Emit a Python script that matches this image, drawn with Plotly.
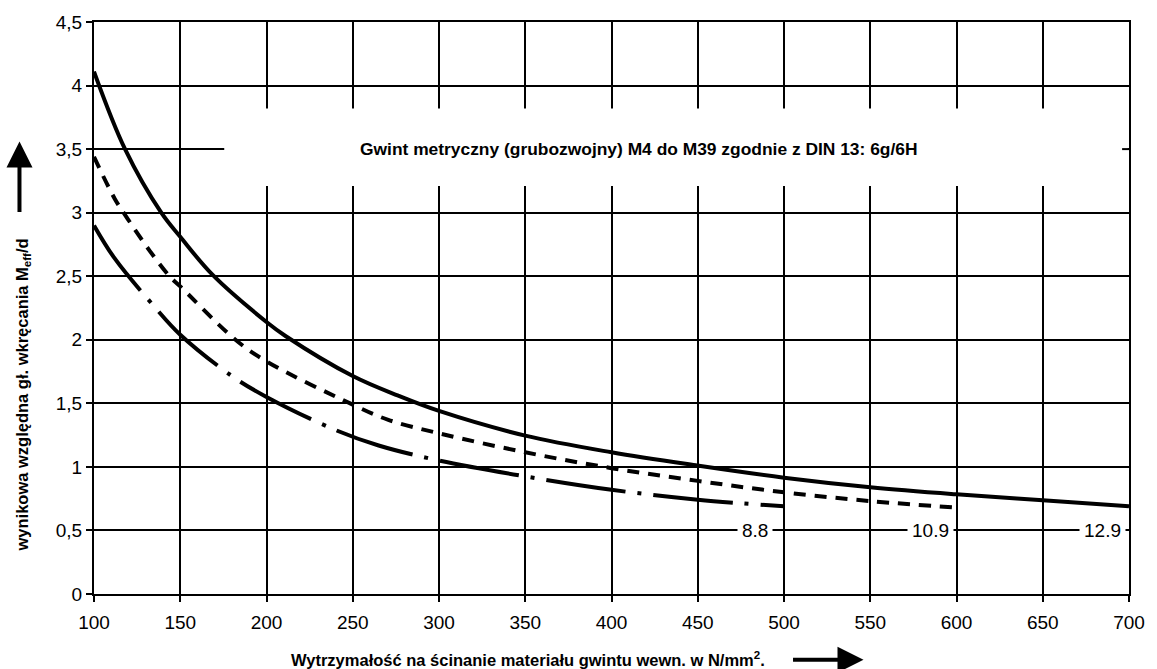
"""
Relative thread engagement depth vs. shear strength of internal thread material
"""

import plotly.graph_objects as go

# grade 12.9 (solid)
x_129 = [100, 118, 139, 150, 168.8, 200, 211, 250, 276.4,
         300, 350, 400, 450, 500, 550, 600, 650, 700]
y_129 = [4.11, 3.5, 3.0, 2.81, 2.51, 2.14, 2.03, 1.715, 1.56,
         1.44, 1.246, 1.115, 1.01, 0.915, 0.84, 0.784, 0.737, 0.69]

# grade 10.9 (dashed)
x_109 = [100, 112, 119.6, 132.3, 143.8, 150, 182, 200, 250, 270.6,
         300, 350, 400, 450, 500, 550, 600]
y_109 = [3.44, 3.11, 2.95, 2.70, 2.5, 2.42, 2.0, 1.83, 1.49, 1.37,
         1.264, 1.115, 0.99, 0.89, 0.80, 0.731, 0.68]

# grade 8.8 (dash-dot)
x_88 = [100, 112, 135.7, 150, 179.4, 200, 240, 265, 300, 350, 400, 450, 500]
y_88 = [2.9, 2.64, 2.25, 2.04, 1.72, 1.55, 1.29, 1.168, 1.05, 0.925, 0.82,
        0.742, 0.69]

x_ticks = [100, 150, 200, 250, 300, 350, 400, 450, 500, 550, 600, 650, 700]
y_ticks = [0, 0.5, 1, 1.5, 2, 2.5, 3, 3.5, 4, 4.5]
y_ticktext = ["0", "0,5", "1", "1,5", "2", "2,5", "3", "3,5", "4", "4,5"]

grade_labels = ["8.8", "10.9", "12.9"]
grade_label_x = [483, 584.7, 684.4]

NARROW = "Liberation Sans Narrow, Arial Narrow, Liberation Sans, Arial, sans-serif"
REGULAR = "Liberation Sans, Arial, Helvetica, sans-serif"

fig = go.Figure()

fig.add_trace(go.Scatter(
    x=x_129, y=y_129, mode='lines', name="12.9",
    line=dict(color='black', width=4, shape='spline', smoothing=1)
))
fig.add_trace(go.Scatter(
    x=x_109, y=y_109, mode='lines', name="10.9",
    line=dict(color='black', width=4, dash='12px,9px', shape='spline', smoothing=1)
))
fig.add_trace(go.Scatter(
    x=x_88, y=y_88, mode='lines', name="8.8",
    line=dict(color='black', width=4, dash='80px,12px,4px,12px',
              shape='spline', smoothing=1)
))

# white band behind the heading text (grid interrupted)
fig.add_shape(type='rect', x0=175.5, x1=699.3, y0=3.21, y1=3.82,
              fillcolor='white', line_width=0, layer='between')
fig.add_shape(type='line', x0=696, x1=700, y0=3.5, y1=3.5,
              line=dict(color='black', width=2), layer='above')

fig.add_annotation(
    x=415.8, y=3.5, text="<b>Gwint metryczny (grubozwojny) M4 do M39 zgodnie z DIN 13: 6g/6H</b>",
    showarrow=False, font=dict(family=NARROW, size=17.4, color='black'),
    xanchor='center', yanchor='middle'
)

# grade labels sitting on the 0,5 grid line
for lbl, lx in zip(grade_labels, grade_label_x):
    fig.add_annotation(
        x=lx, y=0.5, text=lbl, showarrow=False,
        font=dict(family=REGULAR, size=19, color='black'),
        bgcolor='white', borderpad=4, xanchor='center', yanchor='middle'
    )

# axis titles
fig.add_annotation(
    xref='paper', yref='paper', x=-0.069, y=0.348,
    text="<b>wynikowa względna gł. wkręcania M<sub>eff</sub>/d</b>",
    textangle=-90, showarrow=False,
    font=dict(family=NARROW, size=16.5, color='black'),
    xanchor='center', yanchor='middle'
)
fig.add_annotation(
    xref='paper', yref='paper', x=0.419, y=-0.113,
    text="<b>Wytrzymałość na ścinanie materiału gwintu wewn. w N/mm<sup>2</sup>.</b>",
    showarrow=False,
    font=dict(family=NARROW, size=16.5, color='black'),
    xanchor='center', yanchor='middle'
)

# arrows next to the axis titles
fig.add_annotation(
    xref='paper', yref='paper', x=-0.072, y=0.791, ax=0, ay=72,
    text="", showarrow=True, arrowhead=2, arrowsize=1.3, arrowwidth=4,
    arrowcolor='black'
)
fig.add_annotation(
    xref='paper', yref='paper', x=0.7435, y=-0.115, ax=-72, ay=0,
    text="", showarrow=True, arrowhead=2, arrowsize=1.3, arrowwidth=4,
    arrowcolor='black'
)

fig.update_xaxes(
    range=[100, 700], tickvals=x_ticks, ticks='outside', ticklen=6,
    tickwidth=2, tickcolor='black', ticklabelstandoff=4,
    showgrid=True, gridcolor='black', gridwidth=2,
    showline=True, linecolor='black', linewidth=2, mirror=True,
    zeroline=False, tickfont=dict(family=REGULAR, size=19, color='black')
)
fig.update_yaxes(
    range=[0, 4.5], tickvals=y_ticks, ticktext=y_ticktext, ticks='outside',
    ticklen=6, tickwidth=2, tickcolor='black',
    showgrid=True, gridcolor='black', gridwidth=2,
    showline=True, linecolor='black', linewidth=2, mirror=True,
    zeroline=False, tickfont=dict(family=REGULAR, size=19, color='black')
)

fig.update_layout(
    width=1157, height=669,
    margin=dict(l=94, r=22, t=20, b=75),
    plot_bgcolor='white', paper_bgcolor='white',
    showlegend=False
)

fig.write_html("out.html", config={'displayModeBar': False},
               post_script="document.body.style.margin='0';")
